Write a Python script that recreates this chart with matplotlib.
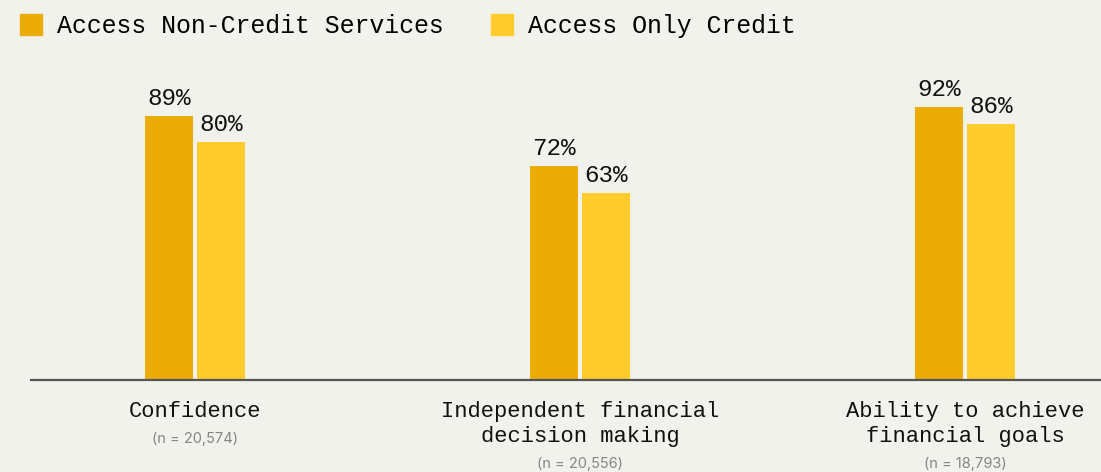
import matplotlib.pyplot as plt
import numpy as np
from matplotlib.patches import Patch

# survey outcomes by type of service accessed
categories = ["Confidence", "Independent financial\ndecision making", "Ability to achieve\nfinancial goals"]
sample_sizes = ["(n = 20,574)", "(n = 20,556)", "(n = 18,793)"]
non_credit = [89, 72, 92]
only_credit = [80, 63, 86]
series_names = ["Access Non-Credit Services", "Access Only Credit"]

bg = "#f2f2ed"
dark_yellow = "#ebac06"
light_yellow = "#ffcc2c"
mono = "Liberation Mono"

fig = plt.figure(figsize=(11.01, 4.72), dpi=100, facecolor=bg)
ax = fig.add_axes([31 / 1101, 92 / 472, 1 - 31 / 1101, 320 / 472])
ax.set_facecolor(bg)

x = np.arange(len(categories))
w = 0.1247
off = 0.0675
b1 = ax.bar(x - off, non_credit, w, color=dark_yellow, zorder=2)
b2 = ax.bar(x + off, only_credit, w, color=light_yellow, zorder=2)

ax.set_xlim(-0.426, 2.353)
ax.set_ylim(0, 107.7)

for bars, vals in ((b1, non_credit), (b2, only_credit)):
    for rect, v in zip(bars, vals):
        ax.annotate(f"{v}%", xy=(rect.get_x() + rect.get_width() / 2, v),
                    xytext=(0, 6), textcoords="offset pixels",
                    ha="center", va="bottom", fontsize=17.5, family=mono, color="#111111")

for i, (lab, n) in enumerate(zip(categories, sample_sizes)):
    ax.annotate(lab, xy=(i, 0), xycoords=("data", "axes fraction"),
                xytext=(0, -21), textcoords="offset pixels",
                ha="center", va="top", fontsize=15.9, family=mono,
                color="#111111", linespacing=1.25)
    lines = lab.count("\n") + 1
    ax.annotate(n, xy=(i, 0), xycoords=("data", "axes fraction"),
                xytext=(0, -63 - 25 * (lines - 1)), textcoords="offset pixels",
                ha="center", va="baseline", fontsize=10.5, family="Inter",
                color="#858585")

for s in ("top", "right", "left"):
    ax.spines[s].set_visible(False)
ax.spines["bottom"].set_color("#555555")
ax.spines["bottom"].set_linewidth(1.6)
ax.spines["bottom"].set_zorder(3)
ax.set_xticks([])
ax.set_yticks([])

handles = [Patch(color=dark_yellow), Patch(color=light_yellow)]
fig.legend(handles, series_names, loc="upper left", bbox_to_anchor=(10 / 1101, 1 - 4 / 472),
           ncol=2, frameon=False, prop={"family": mono, "size": 17.9},
           handlelength=0.88, handleheight=0.88, handletextpad=0.6,
           columnspacing=1.93, borderaxespad=0)

fig.savefig("out.png", dpi=100, facecolor=bg)
